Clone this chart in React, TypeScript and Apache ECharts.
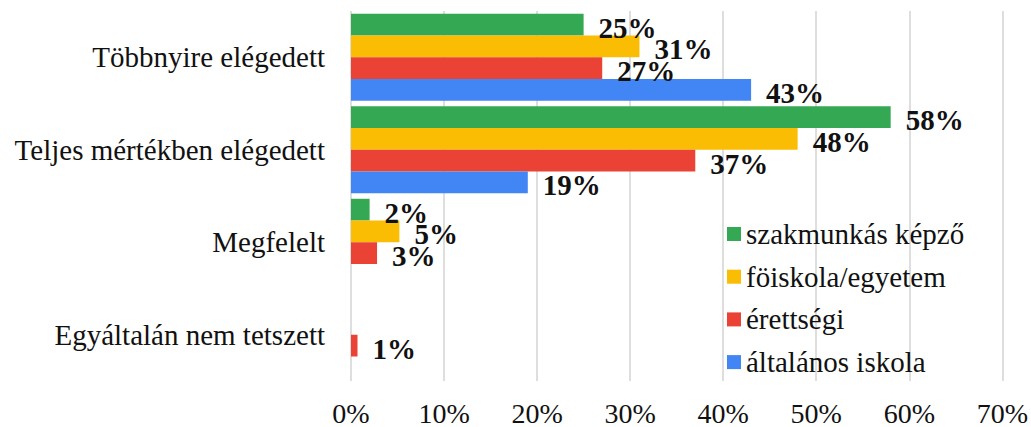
import React, { useEffect, useRef } from "react";
import * as echarts from "echarts";

const categories = [
  "Többnyire elégedett",
  "Teljes mértékben elégedett",
  "Megfelelt",
  "Egyáltalán nem tetszett",
];
const seriesNames = [
  "szakmunkás képző",
  "föiskola/egyetem",
  "érettségi",
  "általános iskola",
];
const szakmunkas = [25, 58, 2, 0];
const foiskola = [31, 48, 5.2, 0];
const erettsegi = [27, 37, 2.8, 0.7];
const altalanos = [43, 19, 0, 0];
const xTicks = [0, 10, 20, 30, 40, 50, 60, 70];

const colors = ["#34A853", "#FBBC04", "#EA4335", "#4285F4"];
const FONT = "Liberation Serif";

export default function App() {
  const ref = useRef<HTMLDivElement>(null);
  useEffect(() => {
    if (!ref.current) return;
    const chart = echarts.init(ref.current, undefined, { renderer: "svg" });
    const values = [szakmunkas, foiskola, erettsegi, altalanos];
    chart.setOption({
      animation: false,
      backgroundColor: "#ffffff",
      grid: { left: 351, right: 28, top: 11, bottom: 43 },
      legend: {
        orient: "vertical",
        left: 727,
        top: 219,
        padding: 0,
        itemWidth: 14,
        itemHeight: 14,
        itemGap: 12.7,
        icon: "rect",
        data: seriesNames,
        textStyle: {
          fontFamily: FONT,
          fontSize: 29,
          color: "#111",
          lineHeight: 30,
        },
      },
      xAxis: {
        type: "value",
        min: xTicks[0],
        max: xTicks[xTicks.length - 1],
        interval: 10,
        axisLine: { show: false },
        axisTick: { show: false },
        splitLine: { show: true, lineStyle: { color: "#d6d6d6", width: 1.6 } },
        axisLabel: {
          formatter: (v: number) => `${v}%`,
          fontFamily: FONT,
          fontSize: 28,
          color: "#111",
          margin: 18,
        },
      },
      yAxis: {
        type: "category",
        inverse: true,
        data: categories,
        axisLine: { show: false },
        axisTick: { show: false },
        axisLabel: {
          fontFamily: FONT,
          fontSize: 29,
          color: "#111",
          margin: 26,
        },
      },
      series: seriesNames.map((name, i) => ({
        name,
        type: "bar",
        data: values[i],
        barGap: "0%",
        barCategoryGap: "6%",
        itemStyle: { color: colors[i] },
        label: {
          show: true,
          position: "right",
          distance: 15,
          offset: [0, 3],
          fontFamily: FONT,
          fontSize: 29,
          fontWeight: "bold",
          color: "#111",
          formatter: (p: any) => (p.value ? `${Math.round(p.value)}%` : ""),
        },
      })),
    });
    return () => chart.dispose();
  }, []);
  return (
    <div
      ref={ref}
      style={{ width: 1031, height: 427, position: "absolute", left: 0, top: 0 }}
    />
  );
}
